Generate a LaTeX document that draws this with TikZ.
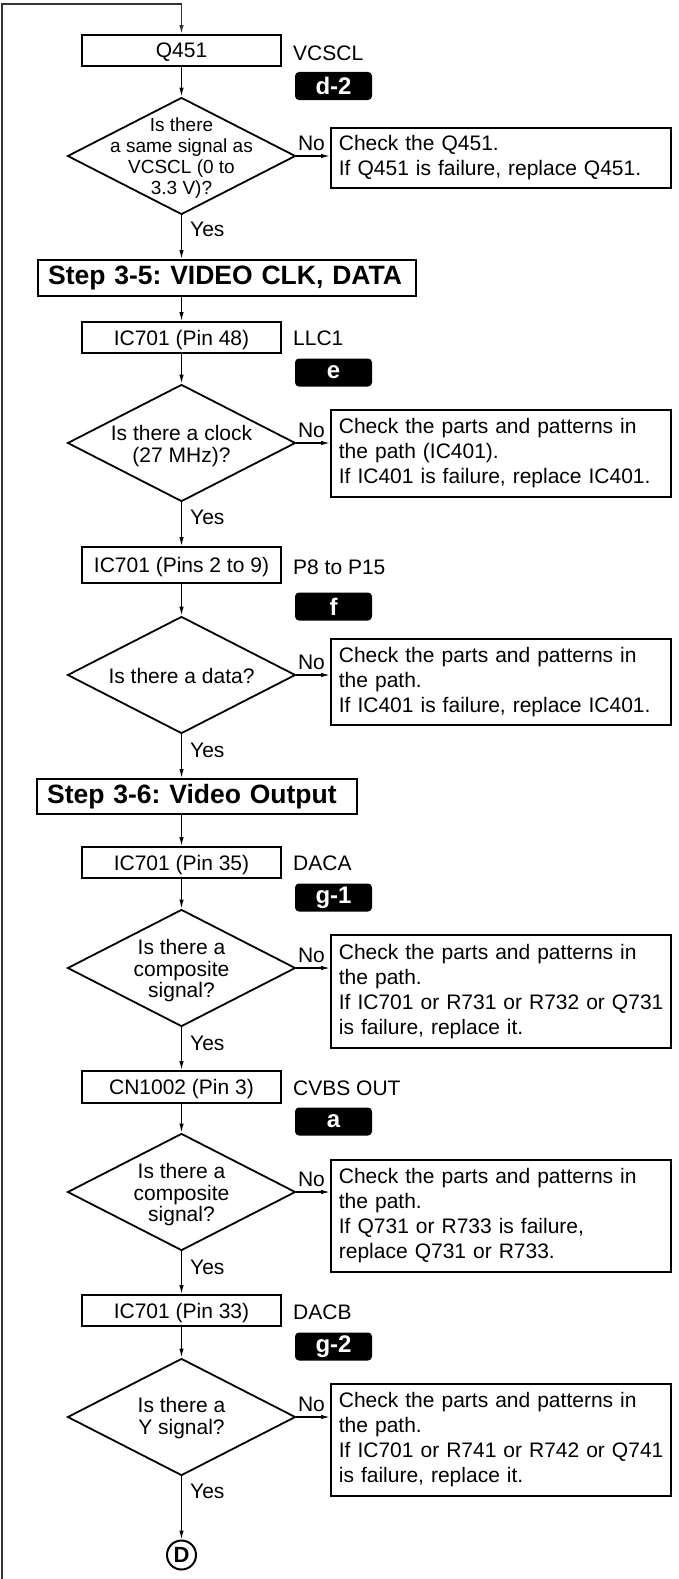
\documentclass[tikz,border=0pt]{standalone}
\usepackage{fontspec}
\setmainfont{Liberation Sans}
\usetikzlibrary{shapes.geometric,arrows.meta,calc}
\frenchspacing
\begin{document}
\begin{tikzpicture}[x=1pt,y=-1pt,
  every node/.style={font=\fontsize{21}{25}\selectfont},
  arr/.style={line width=1.3pt,-{Latex[length=9pt,width=4.5pt]}},
  frameline/.style={line width=1.5pt,black!80},
  box/.style={draw,line width=1.8pt,minimum width=199pt,inner sep=0pt,text height=15pt,text depth=0pt},
  dia/.style={draw,shape=diamond,line width=1.8pt,minimum width=228pt,minimum height=117pt,inner sep=0pt},
  dtext/.style={align=center,inner sep=0pt,font=\fontsize{21}{21.5}\selectfont},
  nobox/.style={draw,line width=1.8pt,anchor=north west,minimum width=340pt,text width=324pt,inner xsep=8pt,inner ysep=0pt,align=left},
  banner/.style={draw,line width=2.2pt,anchor=north west,inner xsep=10pt,inner ysep=0pt,align=left,font=\bfseries\fontsize{26.5}{30}\selectfont},
  sig/.style={anchor=west,inner sep=0pt},
  badge/.style={fill=black,rounded corners=4pt,minimum width=77pt,minimum height=28pt,inner sep=0pt,text=white,font=\bfseries\fontsize{24}{24}\selectfont},
  nolab/.style={anchor=south west,inner sep=1pt,yshift=4pt},
  yeslab/.style={anchor=west,inner sep=0pt}
]
\useasboundingbox (0,0) rectangle (678,1579);

% ---------- Q451 ----------
\node[box,minimum height=31pt] (b1) at (181.5,50.5) {Q451};
\node[sig] (l1) at (293,53) {VCSCL};
\node[badge] (g1) at (333.5,86) {d-2};
\node[dia] (d1) at (181.5,156) {};
\node[dtext,font=\fontsize{19}{21}\selectfont] (t1) at (181.5,158) {Is there\\a same signal as\\VCSCL (0 to\\3.3 V)?};
\node[nobox,minimum height=60pt] (n1) at (330,127) {Check the Q451.\\If Q451 is failure, replace Q451.};

% ---------- Step 3-5 ----------
\node[banner,minimum width=378pt,minimum height=36pt,text width=358pt] (s35) at (37,259) {Step 3-5: VIDEO CLK, DATA};

\node[box,minimum height=31pt] (b2) at (181.5,337.5) {IC701 (Pin 48)};
\node[sig] (l2) at (293,338) {LLC1};
\node[badge] (g2) at (333.5,372.5) {e};
\node[dia] (d2) at (181.5,443) {};
\node[dtext] (t2) at (181.5,446) {Is there a clock\\(27 MHz)?};
\node[nobox,minimum height=87pt] (n2) at (330,409) {Check the parts and patterns in\\the path (IC401).\\If IC401 is failure, replace IC401.};

\node[box,minimum height=36pt] (b3) at (181.5,565) {IC701 (Pins 2 to 9)};
\node[sig] (l3) at (293,567) {P8 to P15};
\node[badge] (g3) at (333.5,606.5) {f};
\node[dia] (d3) at (181.5,675) {};
\node[dtext] (t3) at (181.5,676) {Is there a data?};
\node[nobox,minimum height=86pt] (n3) at (330,638) {Check the parts and patterns in\\the path.\\If IC401 is failure, replace IC401.};

% ---------- Step 3-6 ----------
\node[banner,minimum width=320pt,minimum height=35pt,text width=300pt] (s36) at (36,778) {Step 3-6: Video Output};

\node[box,minimum height=31pt] (b4) at (181.5,862.5) {IC701 (Pin 35)};
\node[sig] (l4) at (293,863) {DACA};
\node[badge] (g4) at (333.5,897.5) {g-1};
\node[dia] (d4) at (181.5,968) {};
\node[dtext] (t4) at (181.5,971) {Is there a\\composite\\signal?};
\node[nobox,minimum height=113pt] (n4) at (330,934) {Check the parts and patterns in\\the path.\\\mbox{If IC701 or R731 or R732 or Q731}\\is failure, replace it.};

\node[box,minimum height=32pt] (b5) at (181.5,1087) {CN1002 (Pin 3)};
\node[sig] (l5) at (293,1088) {CVBS OUT};
\node[badge] (g5) at (333.5,1121.5) {a};
\node[dia] (d5) at (181.5,1192) {};
\node[dtext] (t5) at (181.5,1195) {Is there a\\composite\\signal?};
\node[nobox,minimum height=112pt] (n5) at (330,1159) {Check the parts and patterns in\\the path.\\If Q731 or R733 is failure,\\replace Q731 or R733.};

\node[box,minimum height=31pt] (b6) at (181.5,1310.5) {IC701 (Pin 33)};
\node[sig] (l6) at (293,1312) {DACB};
\node[badge] (g6) at (333.5,1346.5) {g-2};
\node[dia] (d6) at (181.5,1417) {};
\node[dtext] (t6) at (181.5,1418) {Is there a\\Y signal?};
\node[nobox,minimum height=112pt] (n6) at (330,1383) {Check the parts and patterns in\\the path.\\\mbox{If IC701 or R741 or R742 or Q741}\\is failure, replace it.};

\node[circle,draw,line width=2pt,minimum size=29pt,inner sep=0pt,font=\bfseries\fontsize{22}{22}\selectfont] (D) at (181.5,1555) {D};

% ---------- frame line ----------
\coordinate (fb) at (2,1579);
\coordinate (ft) at (2,4);
\draw[frameline,-{Latex[length=9pt,width=4.5pt]}] (fb) -- (ft) -| (b1.north);

% ---------- vertical flow ----------
\draw[arr] (b1) -- (d1);
\draw[arr] (d1.south) -- (d1.south |- s35.north);
\draw[arr] (s35.south -| b2.north) -- (b2);
\draw[arr] (b2) -- (d2);
\draw[arr] (d2) -- (b3);
\draw[arr] (b3) -- (d3);
\draw[arr] (d3.south) -- (d3.south |- s36.north);
\draw[arr] (s36.south -| b4.north) -- (b4);
\draw[arr] (b4) -- (d4);
\draw[arr] (d4) -- (b5);
\draw[arr] (b5) -- (d5);
\draw[arr] (d5) -- (b6);
\draw[arr] (b6) -- (d6);
\draw[arr] (d6) -- (D);

% ---------- Yes labels ----------
\node[yeslab] (y1) at (190,229) {Yes};
\node[yeslab] (y2) at (190,517) {Yes};
\node[yeslab] (y3) at (190,750) {Yes};
\node[yeslab] (y4) at (190,1043) {Yes};
\node[yeslab] (y5) at (190,1267) {Yes};
\node[yeslab] (y6) at (190,1491) {Yes};

% ---------- No branches ----------
\draw[arr] (d1.east) -- node[nolab,pos=0] {No} (d1.east -| n1.west);
\draw[arr] (d2.east) -- node[nolab,pos=0] {No} (d2.east -| n2.west);
\draw[arr] (d3.east) -- node[nolab,pos=0] {No} (d3.east -| n3.west);
\draw[arr] (d4.east) -- node[nolab,pos=0] {No} (d4.east -| n4.west);
\draw[arr] (d5.east) -- node[nolab,pos=0] {No} (d5.east -| n5.west);
\draw[arr] (d6.east) -- node[nolab,pos=0] {No} (d6.east -| n6.west);
\end{tikzpicture}
\end{document}
